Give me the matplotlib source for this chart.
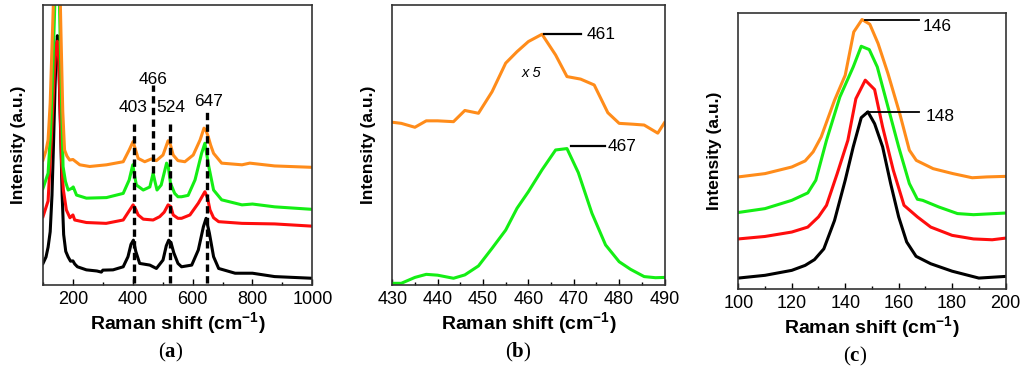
import matplotlib
matplotlib.use("Agg")
import matplotlib.pyplot as plt
from matplotlib.ticker import MultipleLocator

plt.rcParams['font.family'] = ['Liberation Sans', 'DejaVu Sans']
plt.rcParams['mathtext.fontset'] = 'custom'
plt.rcParams['mathtext.rm'] = 'Liberation Serif'
plt.rcParams['mathtext.bf'] = 'Liberation Serif:bold'
plt.rcParams['mathtext.sf'] = 'Liberation Sans:bold'

ORANGE = '#FF8C1A'
GREEN = '#14EE14'
RED = '#FF0D0D'
BLACK = '#000000'

# ---- panel (a): full spectra ----
a_black_x = [100, 110, 117, 124, 130, 135, 140, 144, 148, 152, 156, 160, 164, 169, 176, 184, 192, 200, 206, 215,
             245, 280, 295, 300, 334, 368, 384, 394, 402, 410, 423, 457, 479, 501, 512, 520, 528, 537, 551, 563,
             597, 619, 636, 645, 656, 670, 687, 742, 800, 874, 1000]
a_black_y = [7.7, 10, 13.5, 19, 32, 50, 70, 83, 89, 84, 66, 50, 32, 18, 12, 10, 8.5, 8.6, 7.5, 6.5,
             5.4, 5.0, 4.6, 5.3, 5.4, 6.5, 10.1, 14.5, 16, 12, 7.7, 7.1, 5.9, 8.9, 14, 16, 15, 11.5, 7.7, 6.5,
             7.1, 12.5, 20.8, 23.8, 18.5, 10.1, 5.9, 4.2, 4.2, 3.0, 2.4]

a_red_x = [100, 117, 126, 132, 138, 143, 148, 153, 158, 162, 168, 178, 190, 200, 206, 245, 311, 368, 390, 401,
           410, 418, 435, 468, 490, 505, 518, 527, 535, 551, 563, 591, 619, 641, 650, 658, 670, 687, 765, 874, 1000]
a_red_y = [24.4, 30, 48, 62, 76, 85, 87, 80, 60, 44, 34, 26.8, 24, 25, 23.2, 22.3, 22, 23.2, 26.8, 28.6,
           27, 25, 23.5, 23.2, 24.4, 26, 28.6, 28, 25, 23.8, 23.8, 25, 29.2, 33.3, 31, 26.8, 24, 22.6, 22, 21.8, 21]

a_green_x = [100, 117, 125, 132, 138, 142, 148, 154, 160, 167, 175, 184, 196, 201, 212, 245, 312, 368, 388, 400,
             406, 412, 435, 457, 468, 474, 481, 495, 513, 519, 526, 540, 551, 563, 585, 608, 630, 641, 654, 670,
             697, 765, 800, 874, 1000]
a_green_y = [34.5, 39.9, 54, 75, 95, 110, 118, 105, 75, 42.3, 37, 33.9, 34.5, 35, 32.1, 31, 31.2, 32.7, 37.5, 42.9,
             39, 35.7, 33.9, 35, 39.9, 37, 33.9, 35.7, 43.5, 42, 36.3, 32.7, 31.5, 31.5, 32, 37.5, 47, 50.6, 42.3, 33.9,
             30.4, 28.6, 28.9, 27.9, 27]

a_orange_x = [100, 110, 117, 124, 130, 136, 142, 148, 154, 160, 166, 172, 180, 189, 200, 223, 256, 312, 368, 388,
              401, 410, 418, 440, 462, 479, 501, 518, 526, 535, 551, 574, 602, 625, 638, 645, 652, 660, 670, 697,
              765, 791, 874, 1000]
a_orange_y = [44.6, 48, 51.8, 65, 85, 105, 125, 135, 120, 90, 62, 48.2, 46, 44.6, 44.8, 42.9, 42.3, 42.9, 44, 48.2,
              51.2, 48, 45.2, 44, 45, 44.4, 46.4, 51.5, 50, 46.4, 44.4, 44, 46.4, 51.8, 56, 55, 53, 50, 47, 43.5,
              42.9, 43.5, 42.5, 42]

a_marks = [403, 466, 524, 647]
a_mark_top = [57.8, 71.4, 57.8, 61.9]
a_mark_bottom = [0.6, 40, 0.6, 0.6]
a_mark_labels = ['403', '466', '524', '647']
a_label_x = [401, 468, 527, 654]
a_label_y = [63.5, 73.5, 63.5, 65.5]

# ---- panel (b): 430-490 zoom ----
b_orange_x = [430, 432, 435, 437.5, 440, 443.5, 446, 449, 452, 455, 457.5, 460, 463, 466, 468.5, 471.5,
              474.5, 477.5, 480, 483, 485.5, 488.5, 490]
b_orange_y = [58.1, 57.7, 56.3, 58.6, 58.6, 58.3, 62.3, 61.3, 69, 79.2, 83.3, 86.9, 89.5, 82.1, 74.4, 73.5,
              71.4, 61.5, 57.7, 57.4, 57.1, 54.2, 58]
b_green_x = [430, 432, 435, 437.5, 440, 443.5, 446, 449, 452, 455, 457.5, 460, 463, 466, 468.5, 471,
             474, 477, 480, 482.5, 485.5, 488, 490]
b_green_y = [0.6, 0.6, 2.7, 3.8, 3.5, 2.4, 3.6, 6.8, 13.1, 19.6, 27.4, 33.3, 41.1, 48.2, 48.7, 40.1,
             25.6, 14.3, 8.3, 5.6, 3.0, 2.6, 2.7]

# ---- panel (c): 100-200 zoom ----
c_orange_x = [100, 110, 120, 125, 128, 131, 136, 140, 143.2, 146.3, 149.2, 152.3, 156, 160.4, 164, 166.6,
              172.9, 180.3, 187.5, 193, 200]
c_orange_y = [40.7, 41.9, 44.3, 46.5, 49.8, 55.2, 68.5, 77.6, 93.3, 97.8, 96.1, 89.1, 78.2, 63.7, 50.4, 46.7,
              43.7, 41.9, 40.4, 40.7, 40.9]
c_green_x = [100, 110, 120, 126, 129, 133, 138, 143, 146, 149, 152, 156, 160, 164, 167, 169, 175, 182, 188, 200]
c_green_y = [27.8, 29.2, 32.2, 34.9, 39.5, 54, 69.7, 80.6, 88.1, 86.9, 80.6, 66.1, 51.6, 38.3, 32.6, 32.2,
             29.8, 27.4, 27.0, 27.6]
c_red_x = [100, 110, 120, 126, 130, 133, 137, 141, 144, 147.5, 151, 154, 158, 162, 167, 172, 180, 188, 195, 200]
c_red_y = [18.2, 19.1, 20.7, 22.5, 26.2, 30.4, 41.9, 54, 69.1, 75.8, 72.4, 58.8, 43.1, 30.4, 26.2, 22.5,
           19.5, 18.2, 17.9, 18.5]
c_black_x = [100, 110, 120, 125, 128.5, 132, 136, 140, 143, 146, 148.5, 151, 154, 157, 160, 163, 166.5,
             172, 180, 190, 200]
c_black_y = [4.0, 5.0, 6.8, 8.6, 10.7, 14.6, 24.9, 39.5, 51.6, 62.2, 64.3, 60, 51.6, 38.3, 26.2, 17.1, 11.9,
             9.2, 6.5, 4.0, 4.6]

fig = plt.figure(figsize=(10.24, 3.74), dpi=100)
ax_a = fig.add_axes([0.042, 0.238, 0.263, 0.749])
ax_b = fig.add_axes([0.383, 0.238, 0.266, 0.749])
ax_c = fig.add_axes([0.721, 0.227, 0.261, 0.737])

LW = 2.2
ax_a.plot(a_black_x, a_black_y, color=BLACK, lw=LW)
ax_a.plot(a_red_x, a_red_y, color=RED, lw=LW)
ax_a.plot(a_green_x, a_green_y, color=GREEN, lw=LW)
ax_a.plot(a_orange_x, a_orange_y, color=ORANGE, lw=LW)
for xm, yt, yb, lab, lx, ly in zip(a_marks, a_mark_top, a_mark_bottom, a_mark_labels, a_label_x, a_label_y):
    ax_a.plot([xm, xm], [yb, yt], color='black', lw=2.4, ls=(0, (2.2, 1.3)))
    ax_a.text(lx, ly, lab, ha='center', va='center', fontsize=12.5)
ax_a.set_xlim(100, 1000)
ax_a.set_ylim(0, 100)
ax_a.xaxis.set_major_locator(MultipleLocator(200))
ax_a.xaxis.set_minor_locator(MultipleLocator(100))

ax_b.plot(b_orange_x, b_orange_y, color=ORANGE, lw=LW)
ax_b.plot(b_green_x, b_green_y, color=GREEN, lw=LW)
ax_b.plot([463.5, 471.5], [89.5, 89.5], color='black', lw=1.6)
ax_b.text(472.8, 89.5, '461', ha='left', va='center', fontsize=12.5)
ax_b.plot([469.3, 476.8], [49.5, 49.5], color='black', lw=1.6)
ax_b.text(477.5, 49.5, '467', ha='left', va='center', fontsize=12.5)
ax_b.text(460.7, 75.8, 'x 5', ha='center', va='center', fontsize=10.5, style='italic')
ax_b.set_xlim(430, 490)
ax_b.set_ylim(0, 100)
ax_b.xaxis.set_major_locator(MultipleLocator(10))
ax_b.xaxis.set_minor_locator(MultipleLocator(5))

ax_c.plot(c_orange_x, c_orange_y, color=ORANGE, lw=LW)
ax_c.plot(c_green_x, c_green_y, color=GREEN, lw=LW)
ax_c.plot(c_red_x, c_red_y, color=RED, lw=LW)
ax_c.plot(c_black_x, c_black_y, color=BLACK, lw=LW)
ax_c.plot([147.3, 167.6], [97.8, 97.8], color='black', lw=1.3)
ax_c.text(169.1, 95.2, '146', ha='left', va='center', fontsize=12.5)
ax_c.plot([148.3, 167.6], [64.3, 64.3], color='black', lw=1.3)
ax_c.text(170, 62.8, '148', ha='left', va='center', fontsize=12.5)
ax_c.set_xlim(100, 200)
ax_c.set_ylim(0, 100)
ax_c.xaxis.set_major_locator(MultipleLocator(20))
ax_c.xaxis.set_minor_locator(MultipleLocator(10))

for ax in (ax_a, ax_b, ax_c):
    ax.set_yticks([])
    ax.tick_params(axis='x', which='major', direction='in', length=4, width=1, labelsize=13, pad=4)
    ax.tick_params(axis='x', which='minor', direction='in', length=2.5, width=1)
    for sp in ax.spines.values():
        sp.set_color('#333333')
        sp.set_linewidth(1.2)
    ax.set_xlabel(r'Raman shift (cm$^{\mathsf{-1}}$)', fontsize=14, fontweight='bold', labelpad=2)
    ax.set_ylabel('Intensity (a.u.)', fontsize=12.5, fontweight='bold', labelpad=12)

fig.text(0.167, 0.058, r'$(\mathbf{a})$', ha='center', va='center', fontsize=15)
fig.text(0.506, 0.058, r'$(\mathbf{b})$', ha='center', va='center', fontsize=15)
fig.text(0.835, 0.048, r'$(\mathbf{c})$', ha='center', va='center', fontsize=15)

fig.savefig('out.png', dpi=100)
